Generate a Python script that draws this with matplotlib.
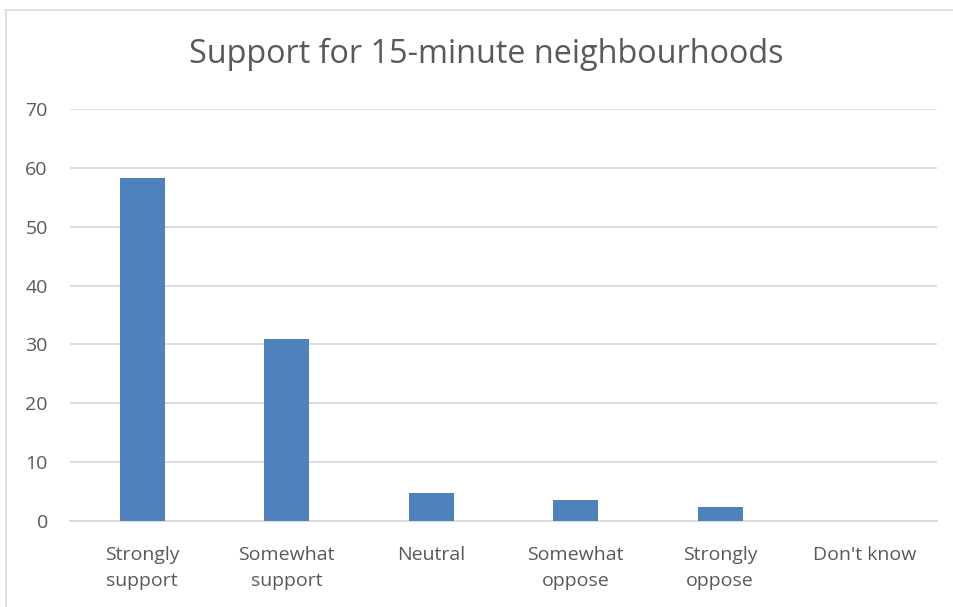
import matplotlib.pyplot as plt
from matplotlib.lines import Line2D

categories = ["Strongly\nsupport", "Somewhat\nsupport", "Neutral",
              "Somewhat\noppose", "Strongly\noppose", "Don't know"]
values = [58.3, 30.9, 4.7, 3.5, 2.3, 0]
yticks = [0, 10, 20, 30, 40, 50, 60, 70]

plt.rcParams['font.family'] = ['Open Sans', 'DejaVu Sans']
text_color = '#595959'
grid_color = '#d9d9d9'
bar_color = '#4f81bd'

fig = plt.figure(figsize=(9.54, 6.07), dpi=100)
ax = fig.add_axes([70 / 954, 1 - 521 / 607, 867 / 954, 412 / 607])

x = range(len(categories))
ax.bar(x, values, width=0.31, color=bar_color, zorder=3)

ax.set_xlim(-0.5, len(categories) - 0.5)
ax.set_ylim(0, 70)
ax.set_yticks(yticks)
ax.set_xticks(list(x))
ax.set_xticklabels(categories, linespacing=1.55)
ax.yaxis.grid(True, color=grid_color, linewidth=1.3, zorder=0)
ax.tick_params(axis='both', length=0, labelsize=14, colors=text_color)
ax.tick_params(axis='x', pad=18)
ax.tick_params(axis='y', pad=16)
for s in ['top', 'right', 'left']:
    ax.spines[s].set_visible(False)
ax.spines['bottom'].set_color(grid_color)
ax.spines['bottom'].set_linewidth(1.3)

fig.text(486 / 954, 1 - 54 / 607, "Support for 15-minute neighbourhoods",
         ha='center', va='center', fontsize=23.3, color=text_color)

# chart frame (top and left edges only visible)
fig.add_artist(Line2D([5 / 954, 1], [1 - 10 / 607] * 2, color=grid_color, lw=1.2))
fig.add_artist(Line2D([6 / 954] * 2, [0, 1 - 10 / 607], color=grid_color, lw=1.2))

fig.savefig("out.png", dpi=100, facecolor='white')
